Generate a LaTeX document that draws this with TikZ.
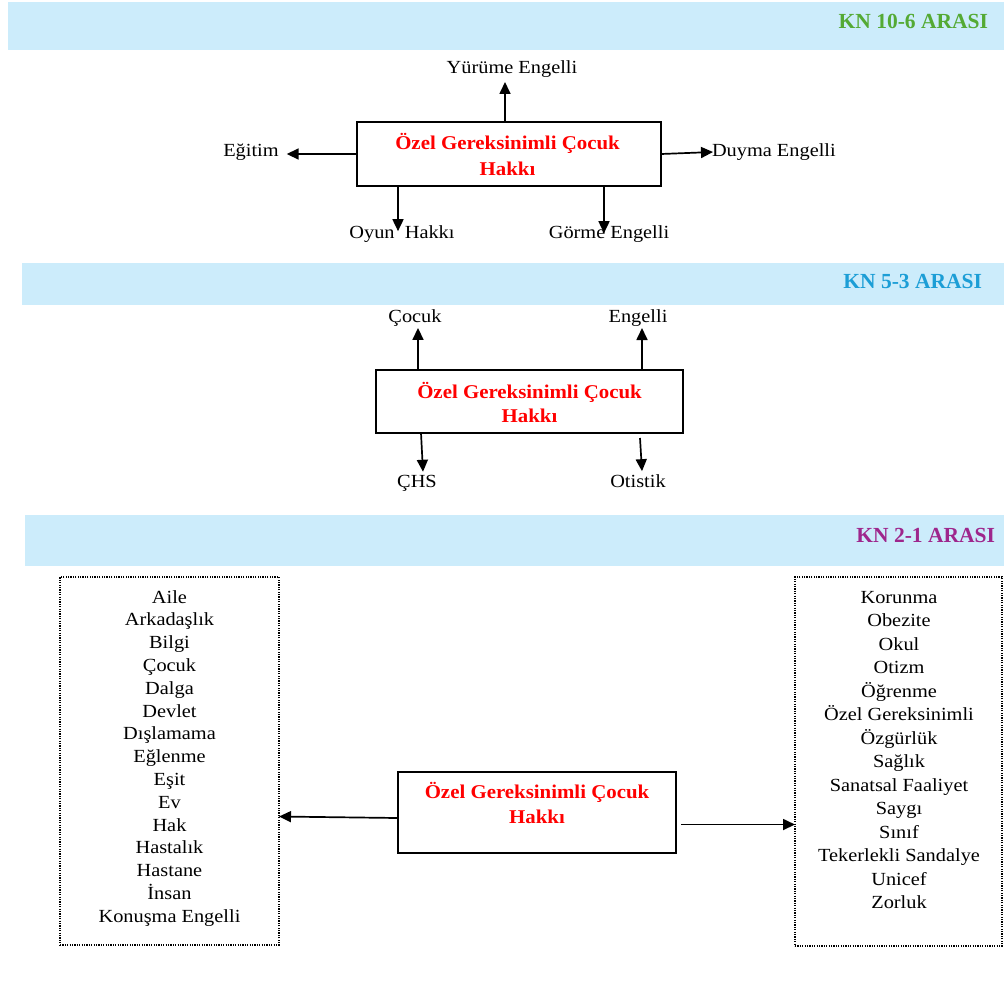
\documentclass[tikz,border=0pt]{standalone}
\usepackage{fontspec}
\setmainfont{Liberation Serif}[FakeStretch=1.1]
\newfontfamily\redfont{Liberation Serif}[FakeStretch=1.07]
\newfontfamily\hdrfont{Liberation Serif}
\usetikzlibrary{arrows.meta,calc}
\definecolor{bandblue}{RGB}{204,236,251}
\definecolor{hgreen}{RGB}{84,170,52}
\definecolor{hblue}{RGB}{28,158,214}
\definecolor{hpurple}{RGB}{158,38,140}
\tikzset{
  band/.style={fill=bandblue, draw=none, inner sep=0pt, outer sep=0pt, anchor=north west},
  hdr/.style={font=\hdrfont\bfseries\fontsize{21.5}{24}\selectfont, inner sep=0pt, outer sep=0pt, anchor=base east},
  lbl/.style={font=\fontsize{18.5}{20}\selectfont, inner sep=0pt, outer sep=0pt, anchor=base},
  rt/.style={font=\redfont\bfseries\fontsize{19.5}{22}\selectfont, text=red, inner sep=0pt, outer sep=0pt, anchor=base},
  mainbox/.style={draw, line width=2pt, inner sep=0pt, outer sep=0pt, fill=white},
  listbox/.style={draw, line width=1.3pt, dash pattern=on 1.2pt off 1.2pt, inner sep=0pt, outer sep=0pt},
  arr/.style={-{Triangle[length=12pt,width=11pt]}, line width=1.7pt}
}
\begin{document}
\begin{tikzpicture}[x=1pt,y=-1pt]
\useasboundingbox[fill=white] (0,0) rectangle (1006,989);
% bands
\node[band, minimum width=996pt, minimum height=48pt] (k1) at (8,2) {};
\node[band, minimum width=982pt, minimum height=42pt] (k2) at (22,263) {};
\node[band, minimum width=979pt, minimum height=51pt] (k3) at (25,515) {};
\node[hdr, text=hgreen] (h1) at (988,28) {KN 10-6 ARASI};
\node[hdr, text=hblue] (h2) at (982,288) {KN 5-3 ARASI};
\node[hdr, text=hpurple] (h3) at (995,542) {KN 2-1 ARASI};
% top diagram
\node[mainbox, minimum width=304pt, minimum height=64pt] (b1) at (509,154) {};
\node[rt] (t1a) at (507.5,149) {Özel Gereksinimli Çocuk};
\node[rt] (t1b) at (507.5,175) {Hakkı};
\node[lbl] (yur) at (512,73) {Yürüme Engelli};
\node[lbl] (egi) at (251,156) {Eğitim};
\node[lbl, anchor=base west] (duy) at (712,156) {Duyma Engelli};
\node[lbl] (oyu) at (402,238) {Oyun~~Hakkı};
\node[lbl] (gor) at (609,238) {Görme Engelli};
\draw[arr] ($(b1.north)+(-4,0)$) -- ($(yur.south)+(-7,5)$);
\draw[arr] (b1.west) -- ($(egi.base east)+(8,-2)$);
\draw[arr] (b1.east) -- ($(duy.base west)+(1,-4)$);
\draw[arr] ($(oyu.north |- b1.south)+(-4,0)$) -- ($(oyu.north)+(-4,6)$);
\draw[arr] ($(gor.north |- b1.south)+(-5,0)$) -- ($(gor.north)+(-5,8)$);
% middle diagram
\node[mainbox, minimum width=307pt, minimum height=63pt] (b2) at (529.5,401.5) {};
\node[rt] (t2a) at (529.5,398) {Özel Gereksinimli Çocuk};
\node[rt] (t2b) at (529.5,422) {Hakkı};
\node[lbl] (coc) at (415,322) {Çocuk};
\node[lbl] (eng) at (638,322) {Engelli};
\node[lbl] (chs) at (417,487) {ÇHS};
\node[lbl] (oti) at (638,487) {Otistik};
\draw[arr] ($(coc.south |- b2.north)+(3,0)$) -- ($(coc.south)+(3,2)$);
\draw[arr] ($(eng.south |- b2.north)+(4,0)$) -- ($(eng.south)+(4,2)$);
\draw[arr] ($(chs.north |- b2.south)+(4,0)$) -- ($(chs.north)+(6,-3)$);
\draw[arr] ($(oti.north |- b2.south)+(2,5)$) -- ($(oti.north)+(4,-3)$);
% bottom diagram
\node[listbox, minimum width=219pt, minimum height=368pt] (L) at (169.5,761) {};
\node[listbox, minimum width=207pt, minimum height=369pt] (R) at (898.5,761.5) {};
\foreach \w [count=\i from 0] in {Aile,Arkadaşlık,Bilgi,Çocuk,Dalga,Devlet,Dışlamama,Eğlenme,Eşit,Ev,Hak,Hastalık,Hastane,İnsan,Konuşma Engelli}
  \node[lbl] (l\i) at (169.5,603+22.8*\i) {\w};
\foreach \w [count=\i from 0] in {Korunma,Obezite,Okul,Otizm,Öğrenme,Özel Gereksinimli,Özgürlük,Sağlık,Sanatsal Faaliyet,Saygı,Sınıf,Tekerlekli Sandalye,Unicef,Zorluk}
  \node[lbl] (r\i) at (899,603+23.5*\i) {\w};
\node[mainbox, minimum width=278pt, minimum height=81pt] (b3) at (537,812.5) {};
\node[rt] (t3a) at (537,798) {Özel Gereksinimli Çocuk};
\node[rt] (t3b) at (537,823) {Hakkı};
\draw[arr] ($(b3.west)+(0,5.5)$) -- ($(L.east |- b3.west)+(0,4)$);
\draw[arr] ($(b3.east)+(5,12)$) -- ($(R.west |- b3.east)+(0,12)$);
\end{tikzpicture}
\end{document}
